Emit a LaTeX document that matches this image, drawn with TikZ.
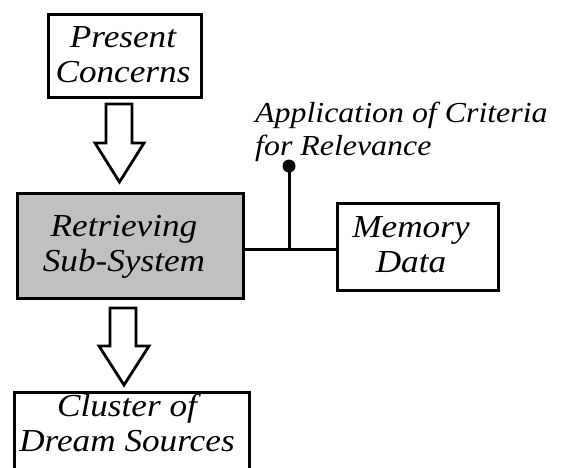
\documentclass[tikz,border=0pt]{standalone}
\usepackage{fontspec}
\setmainfont{Liberation Serif}[FakeStretch=1.1]
\begin{document}
\begin{tikzpicture}[x=1pt,y=-1pt,
  box/.style={draw=black,line width=3pt,inner sep=0pt,align=center,
    font=\fontsize{32}{35}\selectfont\itshape},
  lbl/.style={inner sep=0pt,align=left,font=\fontsize{29}{33}\selectfont\itshape},
  wire/.style={line width=3pt},
  blockarrow/.style={draw=black,line width=2.8pt,fill=white,line join=miter}]
\useasboundingbox (0,0) rectangle (561,467);
\fill[white] (0,0) rectangle (561,467);
% boxes
\node[box,minimum width=153pt,minimum height=83pt] (pc) at (124.5,55.5) {};
\node[box,draw=none,anchor=base] (pct) at (123,82) {Present\\Concerns};
\node[box,fill={rgb,255:red,192;green,192;blue,192},minimum width=226pt,minimum height=105pt] (rs) at (130,245.5) {};
\node[box,draw=none,anchor=base] (rst) at (124,271) {Retrieving\\Sub-System};
\node[box,minimum width=161pt,minimum height=87pt] (md) at (417.5,246.5) {};
\node[box,draw=none,anchor=base] (mdt) at (411,272) {Memory\\Data};
\node[box,minimum width=235pt,minimum height=83pt] (cd) at (131.5,433.5) {};
\node[box,draw=none,anchor=base] (cdt) at (127,451) {Cluster of\\Dream Sources};
% label
\node[lbl,anchor=base west] (app) at (255,155) {Application of Criteria\\for Relevance};
% connectors
\coordinate (j) at (289,249);
\coordinate (dot) at (289,166);
\draw[wire] (rs.east |- j) -- (md.west |- j);
\draw[wire] (j) -- (dot);
\fill (dot) circle (6.5pt);
% block arrows
\draw[blockarrow] (106,104) -- (132,104) -- (132,143) -- (144,143) -- (119.5,182)
  -- (95,143) -- (106,143) -- cycle;
\draw[blockarrow] (110,308) -- (136,308) -- (136,346) -- (149,346) -- (124,385)
  -- (99,346) -- (110,346) -- cycle;
\end{tikzpicture}
\end{document}
